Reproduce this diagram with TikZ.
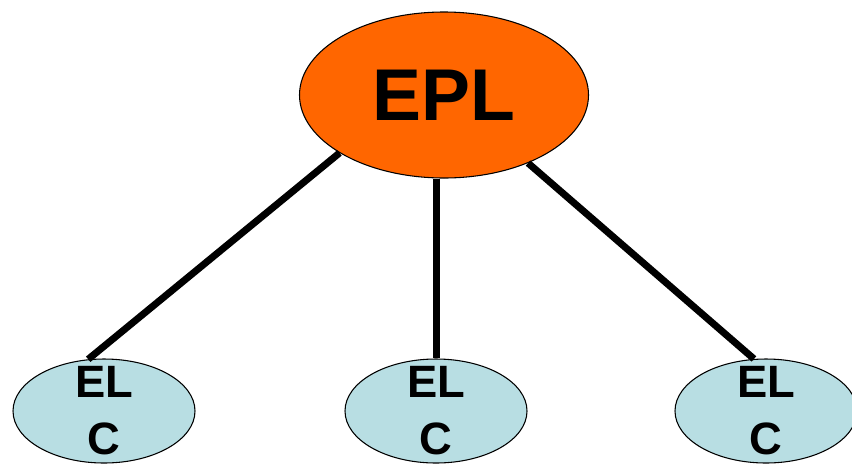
\documentclass[tikz,border=0pt]{standalone}
\usepackage{fontspec}
\setmainfont{Liberation Sans}
\usepackage{tikz}
\usetikzlibrary{
    shapes.geometric,
    calc
}
\definecolor{eplorange}{HTML}{FF6600}
\definecolor{elcblue}{RGB}{184,222,227}

\begin{document}
\begin{tikzpicture}[x=0.75pt,y=-0.75pt,
    top/.style={ellipse,draw=black,line width=0.8pt,fill=eplorange,
        minimum width=216.75pt,minimum height=124.5pt,inner sep=0pt,
        font=\fontsize{55}{60}\selectfont\bfseries},
    leaf/.style={ellipse,draw=black,line width=0.8pt,fill=elcblue,
        minimum width=136.5pt,minimum height=78pt,inner xsep=0pt,inner ysep=-25pt,
        align=center,font=\fontsize{34}{42.75}\selectfont\bfseries},
    link/.style={line width=5.25pt}]

\useasboundingbox (0,0) rectangle (852,465);

% Top node
\node[top] (epl) at (444,95) {EPL};

% Leaves
\node[leaf] (elcl) at (104,411) {EL\\C};
\node[leaf] (elcm) at (436,411) {EL\\C};
\node[leaf] (elcr) at (766,411) {EL\\C};

% Links
\draw[link] (epl.209) -- (elcl.107);
\draw[link] (epl.south -| elcm) -- (elcm.north);
\draw[link] (epl.-39) -- (elcr.103);

\end{tikzpicture}
\end{document}
